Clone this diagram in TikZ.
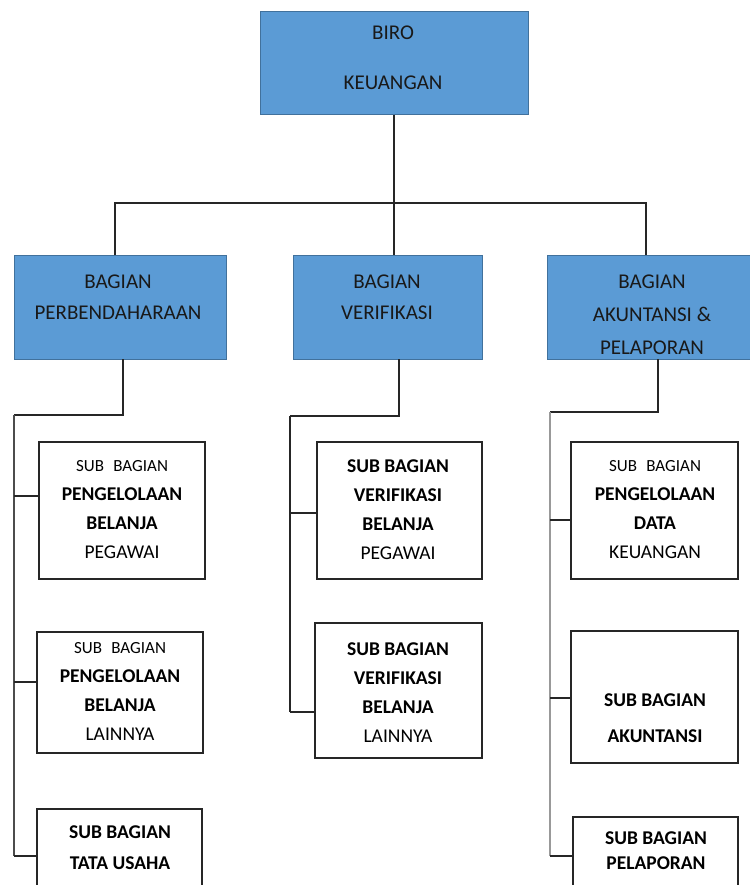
\documentclass[tikz,border=0pt]{standalone}
\usepackage{fontspec}
\setmainfont{Carlito}
\definecolor{boxblue}{HTML}{5B9BD5}
\definecolor{boxedge}{HTML}{41719C}
\newcommand{\smallsub}{{\fontsize{17}{29}\selectfont SUB\hspace{0.55em}BAGIAN}}
\begin{document}
\begin{tikzpicture}[x=1pt,y=-1pt,
  bluebox/.style={draw=boxedge,line width=1pt,fill=boxblue,inner sep=0pt,outer sep=0pt},
  subbox/.style={draw=black!85,line width=1.6pt,fill=white,inner sep=0pt,outer sep=0pt},
  maintext/.style={align=center,inner sep=0pt,text=black!90},
  subtext/.style={align=center,inner sep=0pt,text=black,font=\fontsize{19.5}{29}\selectfont},
  conn/.style={line width=1.6pt,black!85},
  busL/.style={line width=1.8pt,black!70},
  busM/.style={line width=1.8pt,black!85},
  busR/.style={line width=1.8pt,black!40}]
\useasboundingbox (0,0) rectangle (749,885);

% level 1
\node[bluebox,minimum width=268pt,minimum height=103pt] (top) at (394,63.5) {};
\node[maintext,font=\fontsize{21}{50}\selectfont] (toptxt) at (393,58) {BIRO\\KEUANGAN};

% level 2
\node[bluebox,minimum width=212pt,minimum height=104pt] (b1) at (120,307) {};
\node[bluebox,minimum width=189pt,minimum height=104pt] (b2) at (387.5,307) {};
\node[bluebox,minimum width=210pt,minimum height=104pt] (b3) at (652,307) {};
\node[maintext,font=\fontsize{21}{31}\selectfont] (b1txt) at (118,297.5) {BAGIAN\\PERBENDAHARAAN};
\node[maintext,font=\fontsize{21}{31}\selectfont] (b2txt) at (387,297.5) {BAGIAN\\VERIFIKASI};
\node[maintext,font=\fontsize{21}{33}\selectfont] (b3txt) at (652,315) {BAGIAN\\AKUNTANSI \&\\PELAPORAN};

% level 3 boxes
\node[subbox,minimum width=166pt,minimum height=137pt] (sa) at (122,510.5) {};
\node[subbox,minimum width=166pt,minimum height=121pt] (sb) at (120,692.5) {};
\node[subbox,minimum width=165pt,minimum height=91pt] (sc) at (119.5,854.5) {};
\node[subbox,minimum width=165pt,minimum height=137pt] (sd) at (399.5,510.5) {};
\node[subbox,minimum width=167pt,minimum height=135pt] (se) at (398.5,690.5) {};
\node[subbox,minimum width=167pt,minimum height=137pt] (sf) at (654.5,510.5) {};
\node[subbox,minimum width=167pt,minimum height=132pt] (sg) at (654.5,697) {};
\node[subbox,minimum width=165pt,minimum height=83pt] (sh) at (655.5,858.5) {};

\node[subtext] (satxt) at (122,510) {\smallsub\\\textbf{PENGELOLAAN}\\\textbf{BELANJA}\\PEGAWAI};
\node[subtext] (sbtxt) at (120,691.5) {\smallsub\\\textbf{PENGELOLAAN}\\\textbf{BELANJA}\\LAINNYA};
\node[subtext,font=\fontsize{19.5}{31}\selectfont] (sctxt) at (120,847.5) {\textbf{SUB BAGIAN}\\\textbf{TATA USAHA}};
\node[subtext] (sdtxt) at (398,510) {\textbf{SUB BAGIAN}\\\textbf{VERIFIKASI}\\\textbf{BELANJA}\\PEGAWAI};
\node[subtext] (setxt) at (398,692.5) {\textbf{SUB BAGIAN}\\\textbf{VERIFIKASI}\\\textbf{BELANJA}\\LAINNYA};
\node[subtext] (sftxt) at (655,510) {\smallsub\\\textbf{PENGELOLAAN}\\\textbf{DATA}\\KEUANGAN};
\node[subtext,font=\fontsize{19.5}{36}\selectfont] (sgtxt) at (655,718) {\textbf{SUB BAGIAN}\\\textbf{AKUNTANSI}};
\node[subtext,font=\fontsize{19.5}{25}\selectfont] (shtxt) at (656,850.5) {\textbf{SUB BAGIAN}\\\textbf{PELAPORAN}};

% level 1 -> level 2
\coordinate (hl) at (115,203);
\coordinate (hr) at (646,203);
\draw[conn] (top.south) -- (top.south |- hl);
\draw[conn] (b1.north -| hl) -- (hl) -- (hr) -- (b3.north -| hr);
\draw[conn] (top.south |- hl) -- (top.south |- b2.north);

% left branch
\coordinate (k1) at (123,415);
\coordinate (bus1t) at (14,415);
\coordinate (bus1b) at (14,856);
\coordinate (a1) at (14,496);
\coordinate (a2) at (14,682);
\draw[conn] (b1.south -| k1) -- (k1) -- (bus1t);
\draw[busL] (bus1t) -- (bus1b);
\draw[conn] (a1) -- (a1 -| sa.west);
\draw[conn] (a2) -- (a2 -| sb.west);
\draw[conn] (bus1b) -- (bus1b -| sc.west);

% middle branch
\coordinate (k2) at (399,416);
\coordinate (bus2t) at (290,416);
\coordinate (bus2b) at (290,712);
\coordinate (d1) at (290,513);
\draw[conn] (b2.south -| k2) -- (k2) -- (bus2t);
\draw[busM] (bus2t) -- (bus2b);
\draw[conn] (d1) -- (d1 -| sd.west);
\draw[conn] (bus2b) -- (bus2b -| se.west);

% right branch
\coordinate (k3) at (658,412);
\coordinate (bus3t) at (550,412);
\coordinate (bus3b) at (550,856);
\coordinate (f1) at (550,520);
\coordinate (g1) at (550,698);
\draw[conn] (b3.south -| k3) -- (k3) -- (bus3t);
\draw[busR] (bus3t) -- (bus3b);
\draw[conn] (f1) -- (f1 -| sf.west);
\draw[conn] (g1) -- (g1 -| sg.west);
\draw[conn] (bus3b) -- (bus3b -| sh.west);
\end{tikzpicture}
\end{document}
